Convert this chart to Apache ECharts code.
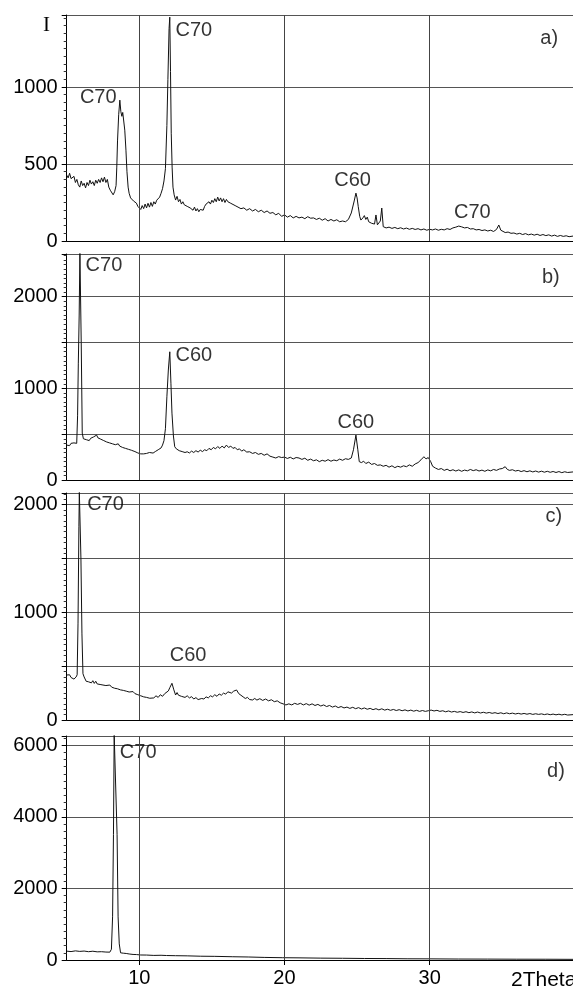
<!DOCTYPE html>
<html><head><meta charset="utf-8">
<script src="https://cdn.jsdelivr.net/npm/echarts@6/dist/echarts.min.js"></script>
<style>html,body{margin:0;padding:0;background:#fff}#c{width:573px;height:988px}</style>
</head><body><div id="c"></div>
<script>
// ---- data ----
const xMin = 5, xMax = 39.87;
const xGridLines = [10, 20, 30];
const xTickLabels = [10, 20, 30];
const yMaxes = [1468, 2466, 2109, 6255];
const yIntervals = [500, 500, 500, 2000];
const yLabelSteps = [500, 1000, 1000, 2000];

const patternA = [[5.0,428],[5.1,410],[5.2,440],[5.3,405],[5.4,395],[5.5,420],[5.6,380],[5.7,400],[5.8,365],[5.9,350],[6.0,390],[6.1,360],[6.2,375],[6.3,345],[6.4,380],[6.5,360],[6.6,395],[6.7,370],[6.8,385],[6.9,360],[7.0,395],[7.1,375],[7.2,400],[7.3,380],[7.4,410],[7.5,385],[7.6,415],[7.7,380],[7.8,400],[7.9,350],[8.0,330],[8.1,320],[8.2,300],[8.3,320],[8.4,360],[8.45,480],[8.5,650],[8.58,820],[8.66,915],[8.73,840],[8.8,810],[8.86,835],[8.93,830],[9.0,720],[9.08,590],[9.15,450],[9.23,350],[9.3,310],[9.4,280],[9.5,272],[9.6,260],[9.7,250],[9.8,246],[9.9,225],[10.0,235],[10.1,205],[10.2,230],[10.3,210],[10.4,240],[10.5,215],[10.6,245],[10.7,220],[10.8,250],[10.9,225],[11.0,255],[11.1,240],[11.2,265],[11.3,275],[11.4,285],[11.5,310],[11.6,340],[11.7,390],[11.8,470],[11.9,750],[11.97,1050],[12.05,1380],[12.1,1454],[12.15,1100],[12.2,700],[12.26,480],[12.32,350],[12.4,300],[12.5,266],[12.6,290],[12.7,255],[12.8,270],[12.9,240],[13.0,255],[13.1,235],[13.2,245],[13.3,225],[13.4,230],[13.5,215],[13.6,225],[13.7,200],[13.8,220],[13.9,195],[14.0,210],[14.1,190],[14.2,205],[14.3,215],[14.4,200],[14.5,225],[14.6,240],[14.7,230],[14.8,255],[14.9,240],[15.0,265],[15.1,250],[15.2,275],[15.3,255],[15.4,285],[15.5,260],[15.6,280],[15.7,255],[15.8,275],[15.9,250],[16.0,270],[16.1,255],[16.2,265],[16.3,245],[16.4,250],[16.6,230],[16.8,220],[17.0,210],[17.2,215],[17.4,200],[17.6,210],[17.8,195],[18.0,205],[18.2,190],[18.4,200],[18.6,185],[18.8,195],[19.0,180],[19.2,185],[19.4,170],[19.6,180],[19.8,160],[20.0,170],[20.2,155],[20.4,165],[20.6,150],[20.8,160],[21.0,150],[21.2,155],[21.4,145],[21.6,158],[21.8,148],[22.0,150],[22.2,140],[22.4,148],[22.6,135],[22.8,145],[23.0,130],[23.2,140],[23.4,130],[23.6,138],[23.8,125],[24.0,130],[24.2,125],[24.4,140],[24.6,182],[24.8,260],[24.92,311],[25.0,280],[25.08,223],[25.18,160],[25.26,136],[25.4,150],[25.5,165],[25.6,140],[25.7,155],[25.8,125],[25.9,120],[26.0,115],[26.2,110],[26.3,169],[26.4,105],[26.5,100],[26.6,130],[26.7,214],[26.8,93],[27.0,85],[27.2,90],[27.4,82],[27.6,88],[27.8,80],[28.0,86],[28.2,78],[28.4,84],[28.6,76],[28.8,82],[29.0,75],[29.2,80],[29.4,72],[29.6,78],[29.8,70],[30.0,76],[30.2,72],[30.4,78],[30.6,70],[30.8,76],[31.0,72],[31.2,80],[31.4,75],[31.6,85],[31.8,90],[32.0,97],[32.2,92],[32.4,85],[32.6,88],[32.8,78],[33.0,80],[33.2,72],[33.4,75],[33.6,68],[33.8,72],[34.0,65],[34.2,70],[34.4,62],[34.6,75],[34.76,104],[34.9,70],[35.0,60],[35.2,55],[35.4,58],[35.6,50],[35.8,52],[36.0,45],[36.2,50],[36.4,42],[36.6,48],[36.8,40],[37.0,45],[37.2,38],[37.4,44],[37.6,36],[37.8,42],[38.0,35],[38.2,40],[38.4,32],[38.6,38],[38.8,30],[39.0,36],[39.2,30],[39.4,34],[39.6,28],[39.87,32]];

const patternB = [[5.0,381],[5.1,395],[5.2,375],[5.3,400],[5.4,385],[5.5,405],[5.6,390],[5.69,400],[5.75,700],[5.8,1275],[5.86,1800],[5.91,2480],[5.96,2480],[6.0,1500],[6.07,512],[6.15,450],[6.25,470],[6.35,440],[6.45,460],[6.55,430],[6.65,455],[6.75,440],[6.85,470],[6.95,455],[7.06,490],[7.15,460],[7.25,475],[7.35,445],[7.45,460],[7.55,430],[7.65,445],[7.75,415],[7.85,430],[7.95,405],[8.05,420],[8.15,395],[8.25,410],[8.35,385],[8.45,380],[8.55,395],[8.65,370],[8.75,385],[8.85,355],[8.95,370],[9.05,345],[9.15,360],[9.25,335],[9.35,345],[9.45,325],[9.57,327],[9.7,310],[9.8,320],[9.9,295],[10.0,300],[10.1,285],[10.2,272],[10.3,285],[10.4,265],[10.5,290],[10.6,275],[10.7,300],[10.8,280],[10.95,294],[11.1,310],[11.2,300],[11.3,330],[11.4,320],[11.5,350],[11.6,381],[11.7,430],[11.8,560],[11.9,908],[12.0,1200],[12.1,1399],[12.18,1050],[12.25,730],[12.35,480],[12.44,363],[12.55,340],[12.65,355],[12.75,320],[12.85,335],[12.95,310],[13.05,325],[13.15,300],[13.3,308],[13.45,295],[13.6,315],[13.75,300],[13.9,320],[14.05,305],[14.2,325],[14.35,310],[14.5,330],[14.65,320],[14.8,345],[14.95,330],[15.1,355],[15.25,340],[15.4,365],[15.55,345],[15.7,370],[15.85,350],[16.0,381],[16.15,355],[16.3,370],[16.45,345],[16.6,355],[16.75,330],[16.9,340],[17.05,315],[17.2,330],[17.4,305],[17.6,308],[17.8,290],[18.0,300],[18.2,280],[18.4,290],[18.6,270],[18.8,285],[19.0,260],[19.2,250],[19.4,240],[19.6,255],[19.8,245],[20.0,250],[20.2,235],[20.4,248],[20.6,230],[20.8,245],[21.0,240],[21.2,225],[21.4,238],[21.6,215],[21.8,228],[22.0,210],[22.2,220],[22.4,200],[22.6,215],[22.8,205],[23.0,222],[23.2,205],[23.4,218],[23.6,210],[23.8,228],[24.0,215],[24.2,232],[24.4,225],[24.6,240],[24.75,330],[24.92,490],[25.05,330],[25.15,200],[25.3,190],[25.45,205],[25.6,180],[25.8,195],[26.0,170],[26.2,180],[26.4,160],[26.6,165],[26.8,150],[27.0,160],[27.2,140],[27.4,155],[27.6,135],[27.8,150],[28.0,140],[28.2,155],[28.4,145],[28.6,165],[28.8,150],[29.0,175],[29.2,190],[29.4,220],[29.6,254],[29.75,230],[29.9,245],[30.07,200],[30.2,150],[30.4,130],[30.6,115],[30.8,125],[31.0,105],[31.2,118],[31.4,100],[31.6,112],[31.8,98],[32.0,110],[32.2,95],[32.4,108],[32.6,100],[32.8,115],[33.0,102],[33.2,112],[33.4,98],[33.6,108],[33.8,95],[34.0,110],[34.2,100],[34.4,115],[34.6,105],[34.8,120],[35.0,125],[35.2,145],[35.35,115],[35.5,105],[35.7,112],[35.9,98],[36.1,105],[36.3,92],[36.5,102],[36.7,90],[36.9,100],[37.1,88],[37.3,98],[37.5,86],[37.7,96],[37.9,85],[38.1,95],[38.3,84],[38.5,93],[38.7,82],[38.9,92],[39.1,80],[39.3,90],[39.5,82],[39.87,88]];

const patternC = [[5.0,418],[5.1,400],[5.2,420],[5.3,395],[5.4,410],[5.5,380],[5.57,388],[5.65,400],[5.72,420],[5.78,900],[5.84,1800],[5.87,2120],[5.93,2120],[5.98,1500],[6.05,800],[6.12,430],[6.2,400],[6.26,388],[6.34,360],[6.42,372],[6.5,355],[6.6,370],[6.7,345],[6.8,365],[6.9,340],[7.0,360],[7.1,335],[7.2,350],[7.3,330],[7.4,348],[7.5,325],[7.6,340],[7.7,320],[7.8,335],[7.97,325],[8.1,305],[8.2,320],[8.3,295],[8.4,310],[8.5,290],[8.6,305],[8.7,280],[8.8,298],[8.9,275],[9.0,290],[9.1,268],[9.2,285],[9.3,260],[9.4,275],[9.57,264],[9.7,245],[9.8,255],[9.9,235],[10.0,245],[10.1,225],[10.2,238],[10.3,215],[10.4,230],[10.5,210],[10.6,222],[10.72,202],[10.85,220],[11.0,205],[11.15,225],[11.3,210],[11.45,235],[11.6,220],[11.75,245],[11.87,248],[12.0,270],[12.1,300],[12.25,341],[12.38,280],[12.5,232],[12.6,255],[12.7,230],[12.8,245],[12.9,220],[13.0,235],[13.15,210],[13.3,225],[13.45,205],[13.6,217],[13.75,195],[13.9,208],[14.05,190],[14.15,186],[14.3,200],[14.45,195],[14.6,215],[14.75,205],[14.9,225],[15.05,215],[15.2,235],[15.35,220],[15.5,242],[15.65,230],[15.8,250],[15.95,240],[16.1,262],[16.2,264],[16.35,250],[16.5,268],[16.7,279],[16.85,245],[17.0,230],[17.15,215],[17.3,200],[17.45,210],[17.6,190],[17.8,186],[17.95,200],[18.1,185],[18.3,198],[18.5,182],[18.7,195],[18.9,178],[19.1,188],[19.3,170],[19.5,178],[19.7,160],[19.9,150],[20.1,140],[20.3,150],[20.5,140],[20.7,155],[20.9,145],[21.1,155],[21.3,140],[21.5,152],[21.7,138],[21.9,150],[22.1,135],[22.3,145],[22.5,130],[22.7,140],[22.9,125],[23.1,135],[23.3,120],[23.5,130],[23.7,115],[23.9,125],[24.1,112],[24.3,120],[24.5,108],[24.7,118],[24.9,105],[25.1,115],[25.3,102],[25.5,112],[25.7,100],[25.9,108],[26.1,96],[26.3,105],[26.5,94],[26.7,104],[26.9,92],[27.1,100],[27.3,90],[27.5,98],[27.7,88],[27.9,96],[28.1,86],[28.3,94],[28.5,84],[28.7,92],[28.9,82],[29.1,90],[29.3,80],[29.5,88],[29.7,80],[29.9,86],[30.1,92],[30.3,84],[30.5,90],[30.7,80],[30.9,86],[31.1,76],[31.3,84],[31.5,74],[31.7,80],[31.9,72],[32.1,78],[32.3,70],[32.5,77],[32.7,68],[32.9,75],[33.1,66],[33.3,74],[33.5,65],[33.7,72],[33.9,64],[34.1,70],[34.3,62],[34.5,68],[34.7,60],[34.9,67],[35.1,58],[35.3,66],[35.5,58],[35.7,64],[35.9,56],[36.1,62],[36.3,55],[36.5,61],[36.7,54],[36.9,60],[37.1,52],[37.3,58],[37.5,52],[37.7,57],[37.9,50],[38.1,56],[38.3,49],[38.5,55],[38.7,48],[38.9,54],[39.1,47],[39.3,53],[39.5,46],[39.87,50]];

const patternD = [[5.0,247],[5.3,235],[5.6,255],[5.9,240],[6.2,250],[6.5,232],[6.8,245],[7.1,228],[7.4,232],[7.7,222],[7.97,219],[8.08,300],[8.16,1205],[8.22,3500],[8.27,6300],[8.4,6300],[8.47,3500],[8.54,1205],[8.62,450],[8.71,201],[8.9,190],[9.1,182],[9.3,168],[9.57,155],[9.8,152],[10.1,140],[10.5,138],[11.0,128],[11.5,132],[11.87,125],[12.5,120],[13.3,116],[14.2,106],[15.2,102],[16.44,91],[17.5,84],[18.6,72],[19.88,64],[21.0,60],[22.5,52],[24.0,48],[25.5,42],[27.0,40],[28.5,34],[30.0,32],[32.0,27],[34.0,25],[36.0,22],[38.0,21],[39.87,18]];

const labelsA = [[5.91,935,'C70'],[12.49,1370,'C70'],[23.43,396,'C60'],[31.67,188,'C70'],[37.62,1318,'a)']];
const labelsB = [[6.30,2344,'C70'],[12.49,1362,'C60'],[23.65,625,'C60'],[37.73,2209,'b)']];
const labelsC = [[6.41,2000,'C70'],[12.10,595,'C60'],[37.97,1891,'c)']];
const labelsD = [[8.66,5800,'C70'],[38.08,5269,'d)']];

const patterns = [patternA, patternB, patternC, patternD];
const labelSets = [labelsA, labelsB, labelsC, labelsD];

// ---- chart ----
const FONT = 'Liberation Sans, Arial, sans-serif';
const layout = [
  {top: 15, height: 226},
  {top: 254, height: 226},
  {top: 493, height: 227},
  {top: 736, height: 228}
];
const grid = layout.map(g => ({left: 66.7, right: 0, top: g.top, height: g.height, containLabel: false}));
const xAxis = layout.map((g, i) => ({
  type: 'value', gridIndex: i, min: xMin, max: xMax,
  axisLine: {show: true, onZero: false, lineStyle: {color: '#000', width: 1}},
  axisTick: i === 3 ? {show: true, customValues: xTickLabels, length: 5, lineStyle: {color: '#000'}} : {show: false},
  axisLabel: i === 3 ? {show: true, customValues: xTickLabels, fontSize: 20, color: '#000', fontFamily: FONT, margin: 8} : {show: false},
  splitLine: {show: false}
}));
const yAxis = layout.map((g, i) => ({
  type: 'value', gridIndex: i, min: 0, max: yMaxes[i], interval: yIntervals[i],
  axisLine: {show: true, lineStyle: {color: '#000', width: 1}},
  axisTick: {show: true, length: 5, lineStyle: {color: '#000'}},
  minorTick: {show: true, splitNumber: 10, length: 3, lineStyle: {color: '#333'}},
  axisLabel: {
    show: true, fontSize: 20, color: '#000', fontFamily: FONT, margin: 9, showMaxLabel: false,
    formatter: v => (v % yLabelSteps[i] === 0 ? String(v) : '')
  },
  splitLine: {show: true, lineStyle: {color: '#555', width: 1}},
  minorSplitLine: {show: false}
}));
const series = [];
patterns.forEach((p, i) => {
  series.push({
    type: 'line', xAxisIndex: i, yAxisIndex: i, data: p, showSymbol: false, symbol: 'none',
    lineStyle: {color: '#111', width: 1}, clip: true, animation: false, silent: true,
    markLine: {
      silent: true, symbol: ['none', 'none'], animation: false, label: {show: false},
      lineStyle: {color: '#444', type: 'solid', width: 1},
      data: xGridLines.map(v => ({xAxis: v}))
    }
  });
  series.push({
    type: 'scatter', xAxisIndex: i, yAxisIndex: i, data: labelSets[i], symbolSize: 0,
    itemStyle: {color: '#000'}, animation: false, silent: true,
    label: {show: true, position: 'right', distance: 0, formatter: q => q.data[2],
      fontSize: 20, color: '#000', fontFamily: FONT}
  });
});

const chart = echarts.init(document.getElementById('c'), null, {renderer: 'canvas'});
chart.setOption({
  animation: false,
  backgroundColor: '#fff',
  grid, xAxis, yAxis, series,
  graphic: [
    {type: 'text', x: 46.5, y: 25, style: {text: 'I', font: '21px "Liberation Serif", "Times New Roman", serif', fill: '#000', align: 'center', verticalAlign: 'middle'}},
    {type: 'text', x: 511, y: 980, style: {text: '2Theta', font: '21px "Liberation Sans", Arial, sans-serif', fill: '#000', align: 'left', verticalAlign: 'middle'}}
  ]
});
</script></body></html>
